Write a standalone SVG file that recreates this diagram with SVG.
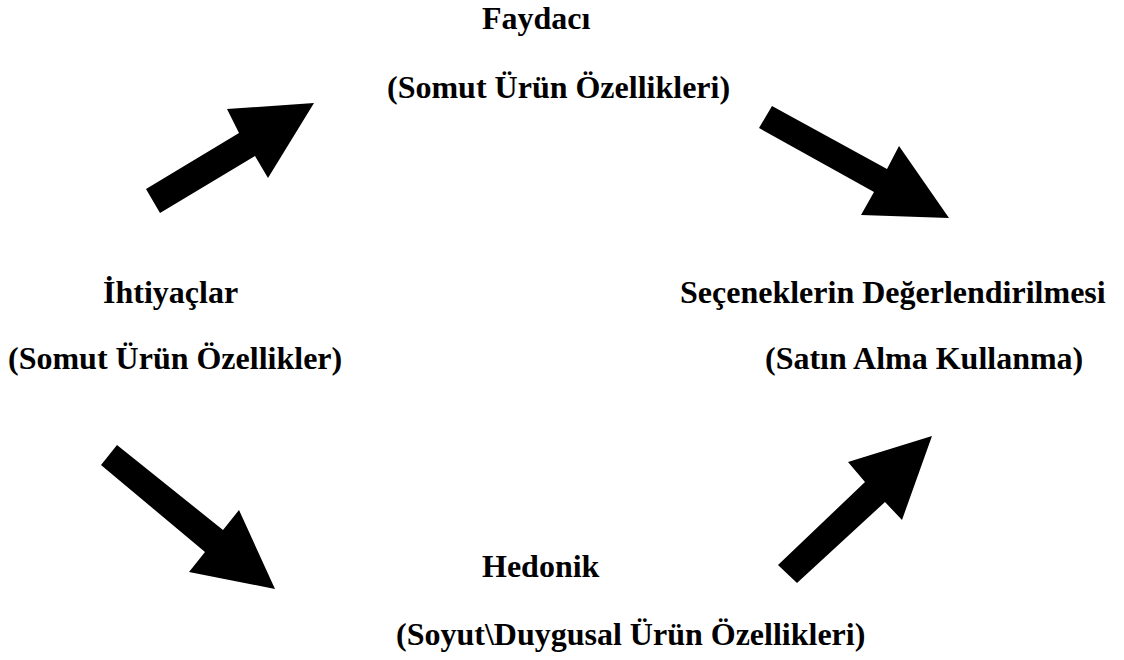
<svg xmlns="http://www.w3.org/2000/svg" width="1124" height="660" viewBox="0 0 1124 660">
<style>
.t{font-family:"Liberation Serif","Times New Roman",serif;font-weight:bold;font-size:32px;fill:#000}
.a{fill:#000}
</style>
<rect width="1124" height="660" fill="#fff"/>
<g id="faydaci">
<text class="t" x="482" y="29">Faydacı</text>
<text class="t" x="387" y="98">(Somut Ürün Özellikleri)</text>
</g>
<g id="ihtiyaclar">
<text class="t" x="103" y="303">İhtiyaçlar</text>
<text class="t" x="8" y="369">(Somut Ürün Özellikler)</text>
</g>
<g id="secenekler">
<text class="t" x="680" y="303">Seçeneklerin Değerlendirilmesi</text>
<text class="t" x="765" y="369">(Satın Alma Kullanma)</text>
</g>
<g id="hedonik">
<text class="t" x="482" y="577">Hedonik</text>
<text class="t" x="396" y="645">(Soyut\Duygusal Ürün Özellikleri)</text>
</g>
<g id="connectors">
<polygon class="a" points="146,189 239,133 227,109 314,103 268,178 255,156 160,213"/>
<polygon class="a" points="772,106 887,169 899,146 949,218 861,215 874,192 759,128"/>
<polygon class="a" points="117,445 223,530 239,510 275,589 189,572 205,552 101,465"/>
<polygon class="a" points="778,565 865,482 848,462 932,436 902,520 885,502 797,583"/>
</g>
</svg>
